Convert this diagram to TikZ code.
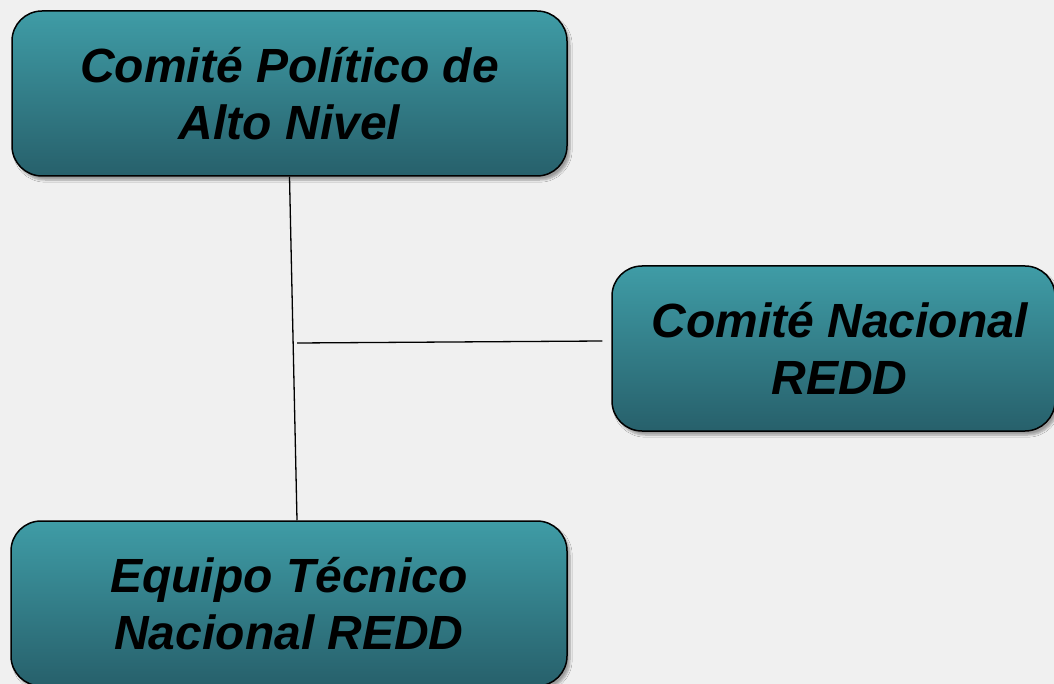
\documentclass[tikz,border=0pt]{standalone}
\usepackage{fontspec}
\setmainfont{Liberation Sans}
\usetikzlibrary{shadows.blur}
\definecolor{bg}{HTML}{F0F0F0}
\definecolor{tealtop}{HTML}{3F9CA6}
\definecolor{tealbot}{HTML}{27606B}
\tikzset{
  box/.style={rectangle, rounded corners=30pt, draw=black, line width=1.5pt,
    top color=tealtop, bottom color=tealbot, inner sep=0pt,
    blur shadow={shadow xshift=3pt, shadow yshift=-4pt, shadow blur steps=6, shadow opacity=35},
    font=\fontsize{48}{57}\selectfont\bfseries\itshape, align=center, text=black},
  conn/.style={draw=black, line width=1.3pt}
}
\begin{document}
\begin{tikzpicture}[x=1pt,y=-1pt]
\useasboundingbox (0,0) rectangle (1054,684);
\fill[bg] (0,0) rectangle (1054,684);
\clip (0,0) rectangle (1054,684);
\node[box, minimum width=555pt, minimum height=165pt] (a) at (289.5,93.5) {Comité Político de\\Alto Nivel};
\node[box, minimum width=443pt, minimum height=165pt] (b) at (833.5,348.5) {\hspace*{12pt}Comité Nacional\\\hspace*{12pt}REDD};
\node[box, minimum width=556pt, minimum height=165pt] (c) at (289,603.5) {Equipo Técnico\\Nacional REDD};
\coordinate (j) at (297,343);
\draw[conn] (a.south) -- ([xshift=8pt]c.north);
\draw[conn] (j) -- ([xshift=-9pt,yshift=7.5pt]b.west);
\end{tikzpicture}
\end{document}
